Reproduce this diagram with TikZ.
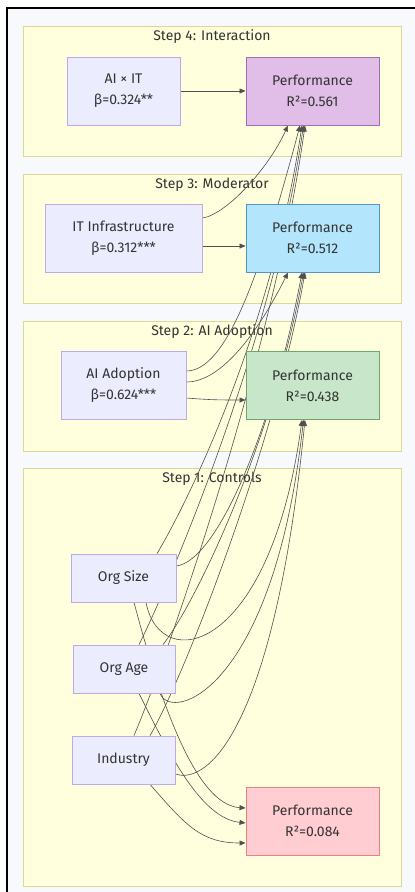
\documentclass[tikz,border=0pt]{standalone}
\usepackage{fontspec}
\setmainfont{Fira Sans}
\usetikzlibrary{arrows.meta}
\definecolor{pagebg}{RGB}{248,249,252}
\definecolor{clusterfill}{RGB}{255,255,222}
\definecolor{clusterline}{RGB}{218,218,150}
\definecolor{varfill}{RGB}{236,236,255}
\definecolor{varline}{RGB}{190,170,235}
\definecolor{darktext}{RGB}{51,51,51}
\definecolor{edgegray}{RGB}{80,80,80}
\definecolor{perffour}{RGB}{225,190,231}
\definecolor{perffourline}{RGB}{160,110,180}
\definecolor{perfthree}{RGB}{179,229,252}
\definecolor{perfthreeline}{RGB}{80,150,200}
\definecolor{perftwo}{RGB}{200,230,201}
\definecolor{perftwoline}{RGB}{105,170,105}
\definecolor{perfone}{RGB}{255,205,210}
\definecolor{perfoneline}{RGB}{230,130,130}
\pgfdeclarelayer{clusters}
\pgfdeclarelayer{edges}
\pgfsetlayers{clusters,edges,main}

\begin{document}
\begin{tikzpicture}[x=1pt, y=-1pt,
    font=\fontsize{14}{21}\selectfont, text=darktext,
    varbox/.style={draw=varline, fill=varfill, line width=0.8pt, align=center, inner sep=0pt, minimum height=68pt},
    ctrlbox/.style={varbox, minimum height=48pt},
    perfbox/.style={line width=0.9pt, align=center, inner sep=0pt, minimum width=133pt, minimum height=68pt},
    stepbox/.style={draw=clusterline, fill=clusterfill, line width=0.8pt},
    link/.style={edgegray, line width=0.6pt, -{Triangle[length=6pt,width=5pt]}}]
  \useasboundingbox (0,0) rectangle (415,892);

  \begin{pgfonlayer}{clusters}
    \fill[white] (0,0) rectangle (415,892);
    \fill[pagebg] (7,8) rectangle (415,892);
    \draw[black, line width=2pt] (7,892) -- (7,8) -- (415,8);
    \foreach \top/\bot/\title in {26/156/Step 4: Interaction, 174/303/Step 3: Moderator,
                                  321/451/Step 2: AI Adoption, 468/886/Step 1: Controls} {
      \draw[stepbox] (23,\top) rectangle (401,\bot);
      \node (title\top) at (212,\top+11) {\title};
    }
  \end{pgfonlayer}

  \node[varbox, minimum width=113pt] (axit) at (123.5,91) {AI × IT\\β=0.324**};
  \node[perfbox, draw=perffourline, fill=perffour] (p4) at (312.5,91) {Performance\\R²=0.561};
  \node[varbox, minimum width=157pt] (itinf) at (123.5,238) {IT Infrastructure\\β=0.312***};
  \node[perfbox, draw=perfthreeline, fill=perfthree] (p3) at (312.5,238) {Performance\\R²=0.512};
  \node[varbox, minimum width=125pt] (aiad) at (123.5,385.5) {AI Adoption\\β=0.624***};
  \node[perfbox, draw=perftwoline, fill=perftwo] (p2) at (312.5,385.5) {Performance\\R²=0.438};
  \node[ctrlbox, minimum width=105pt] (os) at (123.5,578) {Org Size};
  \node[ctrlbox, minimum width=102pt] (oa) at (124,669) {Org Age};
  \node[ctrlbox, minimum width=103pt] (ind) at (123.5,760) {Industry};
  \node[perfbox, draw=perfoneline, fill=perfone] (p1) at (312.5,821) {Performance\\R²=0.084};

  \begin{pgfonlayer}{edges}
    \draw[link] (axit.east) -- (p4.west);
    \draw[link] ([yshift=-8pt]itinf.east) -- ([yshift=-8pt]p3.west);
    \draw[link] ([yshift=20pt]itinf.east) .. controls +(23,-3) and +(-20,44) .. ([xshift=-24.5pt]p4.south);
    \draw[link] ([yshift=-12.5pt]aiad.east) .. controls +(25,2) and +(-25,0) .. ([yshift=-14.5pt]p2.west);
    \draw[link] ([yshift=3.5pt]aiad.east) .. controls +(35,0) and +(-30,60) .. ([xshift=-24.5pt]p3.south);
    \draw[link] ([yshift=14.5pt]aiad.east) .. controls +(40,0) and +(-40,150) .. ([xshift=-12.5pt]p4.south);

    \draw[link] ([xshift=33.5pt]os.north) .. controls +(30,-50) and +(-32,210) .. ([xshift=-10.5pt]p4.south);
    \draw[link] ([xshift=15pt]oa.north) .. controls +(30,-60) and +(-32,220) .. ([xshift=-9pt]p4.south);
    \draw[link] ([xshift=10.5pt]ind.north) .. controls +(30,-70) and +(-32,230) .. ([xshift=-7.5pt]p4.south);

    \draw[link] ([yshift=12pt]os.east) .. controls +(40,-5) and +(-30,160) .. ([xshift=-10.5pt]p3.south);
    \draw[link] ([xshift=39pt]oa.north) .. controls +(35,-45) and +(-30,165) .. ([xshift=-9pt]p3.south);
    \draw[link] ([xshift=26.5pt]ind.north) .. controls +(35,-60) and +(-30,170) .. ([xshift=-7.5pt]p3.south);

    \draw[link] ([xshift=22.5pt]os.south) .. controls +(14,73) and +(-32,235) .. ([xshift=-10.5pt]p2.south);
    \draw[link] ([xshift=36pt]oa.south) .. controls +(12,30) and +(-30,270) .. ([xshift=-9pt]p2.south);
    \draw[link] ([yshift=-14pt]ind.east) .. controls +(35,12) and +(-30,300) .. ([xshift=-7.5pt]p2.south);

    \draw[link] ([xshift=10.5pt]os.south) .. controls +(26,98) and +(-50,-3) .. ([yshift=13pt]p1.west);
    \draw[link] ([xshift=15pt]oa.south) .. controls +(30,60) and +(-45,-5) .. ([yshift=-2pt]p1.west);
    \draw[link] ([xshift=26.5pt]ind.south) .. controls +(35,40) and +(-45,0) .. ([yshift=-22pt]p1.west);
  \end{pgfonlayer}
\end{tikzpicture}
\end{document}
